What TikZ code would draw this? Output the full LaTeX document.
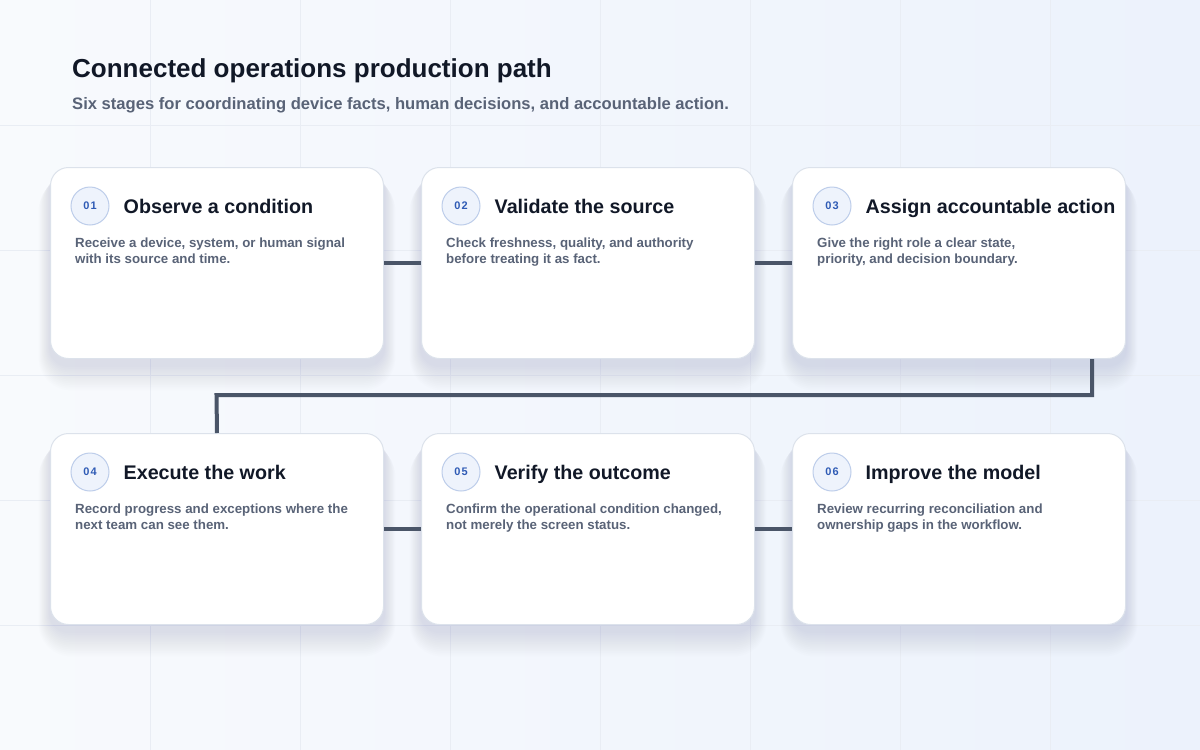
\documentclass[tikz,border=0pt]{standalone}
\usepackage{fontspec}
\setmainfont{Liberation Sans}
\usetikzlibrary{positioning}

\definecolor{ink}{HTML}{111827}
\definecolor{slate}{HTML}{596377}
\definecolor{wire}{HTML}{4A5568}
\definecolor{edge}{HTML}{DCE2EB}
\definecolor{badgefill}{HTML}{EEF3FC}
\definecolor{badgeline}{HTML}{BDCDEA}
\definecolor{badgetext}{HTML}{2F5BB5}
\definecolor{bgtop}{HTML}{F8FAFD}
\definecolor{bgbot}{HTML}{ECF2FC}
\definecolor{gridc}{HTML}{E9EDF4}
\definecolor{shadowc}{HTML}{7F90B0}

\pgfdeclarelayer{back}
\pgfdeclarelayer{shade}
\pgfsetlayers{back,shade,main}

\tikzset{
  card/.style={draw=edge, line width=1pt, fill=white, rounded corners=18pt,
    minimum width=333pt, minimum height=191pt, anchor=north west, inner sep=0pt},
  badge/.style={circle, draw=badgeline, line width=1pt, fill=badgefill, minimum size=38pt,
    inner sep=0pt, font=\fontsize{11}{12}\selectfont\bfseries, text=badgetext},
  stagetitle/.style={anchor=west, inner sep=0pt, text height=14.5pt, text depth=0pt,
    font=\fontsize{19.7}{22}\selectfont\bfseries, text=ink},
  stagetext/.style={anchor=north west, align=left, inner sep=0pt,
    font=\fontsize{13.3}{15.5}\selectfont\bfseries, text=slate},
  link/.style={draw=wire, line width=4pt},
}

\begin{document}
\begin{tikzpicture}[x=1pt, y=-1pt]
    \pgfmathsetmacro{\gx}{150}
    \pgfmathsetmacro{\gy}{125}
    \useasboundingbox (0,0) rectangle (1200,750);
    % background
    \begin{pgfonlayer}{back}
    \shade[shading=axis, shading angle=-30, left color=bgtop, right color=bgbot] (0,0) rectangle (1200,750);
    \foreach \i in {1,...,7} \draw[gridc, line width=0.8pt] (\i*\gx, 0) -- ++(0, 750);
    \foreach \j in {1,...,5} \draw[gridc, line width=0.8pt] (0, \j*\gy) -- ++(1200, 0);
    \end{pgfonlayer}

    \node[anchor=base west, inner sep=0pt, font=\fontsize{26}{28}\selectfont\bfseries, text=ink]
        (title) at (72,77) {Connected operations production path};
    \node[anchor=base west, inner sep=0pt, font=\fontsize{16.6}{18}\selectfont\bfseries, text=slate]
        (subtitle) at (72,109) {Six stages for coordinating device facts, human decisions, and accountable action.};

    % cards
    \node[card] (c1) at (50,167) {};
    \node[card] (c2) at (421,167) {};
    \node[card] (c3) at (792,167) {};
    \node[card] (c4) at (50,433) {};
    \node[card] (c5) at (421,433) {};
    \node[card] (c6) at (792,433) {};

    % soft shadows under the cards
    \begin{pgfonlayer}{shade}
    \foreach \c in {c1,c2,c3,c4,c5,c6}
      \foreach \k in {1,...,14}
        \fill[shadowc, opacity=0.014, rounded corners=18+\k]
          ([xshift=-\k*0.8, yshift=-4-\k*0.5]\c.north west) rectangle ([xshift=\k*0.8, yshift=-6-\k*1.8]\c.south east);
    \end{pgfonlayer}

    % connectors
    \coordinate (turn) at (216.5,395);
    \draw[link] (c1.east) -- (c2.west);
    \draw[link] (c2.east) -- (c3.west);
    \draw[link] ([xshift=-34pt]c3.south east) |- (turn) -- (c4.north);
    \draw[link] (c4.east) -- (c5.west);
    \draw[link] (c5.east) -- (c6.west);

    % stage 1
    \node[badge] (b1) at ([xshift=40pt, yshift=-39pt]c1.north west) {0\kern1.2pt1};
    \node[stagetitle, right=14pt of b1] (t1) {Observe a condition};
    \node[stagetext] (d1) at ([xshift=25pt, yshift=-71pt]c1.north west)
        {Receive a device, system, or human signal\\with its source and time.};
    % stage 2
    \node[badge] (b2) at ([xshift=40pt, yshift=-39pt]c2.north west) {0\kern1.2pt2};
    \node[stagetitle, right=14pt of b2] (t2) {Validate the source};
    \node[stagetext] (d2) at ([xshift=25pt, yshift=-71pt]c2.north west)
        {Check freshness, quality, and authority\\before treating it as fact.};
    % stage 3
    \node[badge] (b3) at ([xshift=40pt, yshift=-39pt]c3.north west) {0\kern1.2pt3};
    \node[stagetitle, right=14pt of b3] (t3) {Assign accountable action};
    \node[stagetext] (d3) at ([xshift=25pt, yshift=-71pt]c3.north west)
        {Give the right role a clear state,\\priority, and decision boundary.};
    % stage 4
    \node[badge] (b4) at ([xshift=40pt, yshift=-39pt]c4.north west) {0\kern1.2pt4};
    \node[stagetitle, right=14pt of b4] (t4) {Execute the work};
    \node[stagetext] (d4) at ([xshift=25pt, yshift=-71pt]c4.north west)
        {Record progress and exceptions where the\\next team can see them.};
    % stage 5
    \node[badge] (b5) at ([xshift=40pt, yshift=-39pt]c5.north west) {0\kern1.2pt5};
    \node[stagetitle, right=14pt of b5] (t5) {Verify the outcome};
    \node[stagetext] (d5) at ([xshift=25pt, yshift=-71pt]c5.north west)
        {Confirm the operational condition changed,\\not merely the screen status.};
    % stage 6
    \node[badge] (b6) at ([xshift=40pt, yshift=-39pt]c6.north west) {0\kern1.2pt6};
    \node[stagetitle, right=14pt of b6] (t6) {Improve the model};
    \node[stagetext] (d6) at ([xshift=25pt, yshift=-71pt]c6.north west)
        {Review recurring reconciliation and\\ownership gaps in the workflow.};
\end{tikzpicture}
\end{document}
